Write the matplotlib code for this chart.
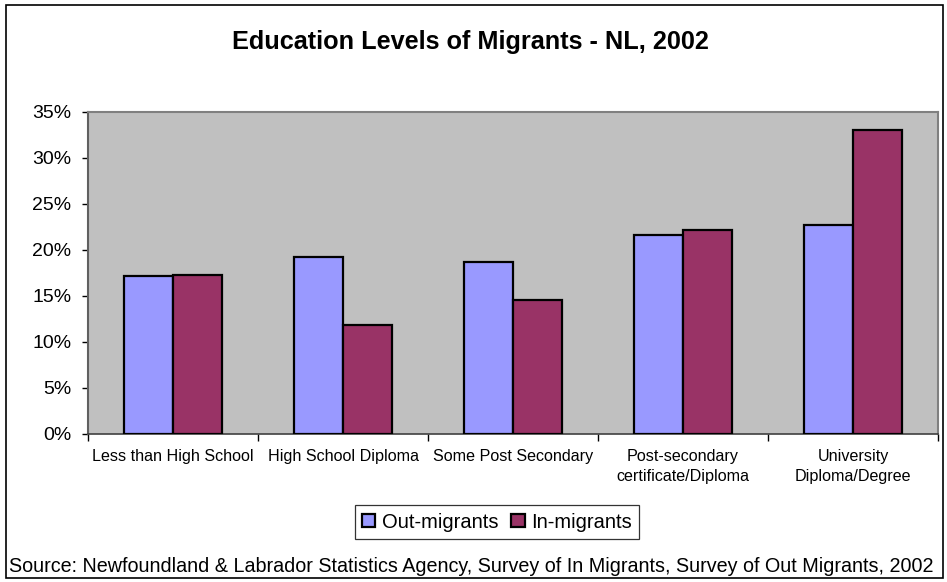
import numpy as np
import matplotlib
matplotlib.use("Agg")
import matplotlib.pyplot as plt
from matplotlib.patches import Rectangle
from matplotlib.ticker import PercentFormatter

plt.rcParams['font.family'] = ['Liberation Sans', 'DejaVu Sans']

categories = ["Less than High School", "High School Diploma", "Some Post Secondary",
              "Post-secondary\ncertificate/Diploma", "University\nDiploma/Degree"]
out_migrants = [17.2, 19.2, 18.7, 21.6, 22.7]
in_migrants = [17.3, 11.9, 14.6, 22.2, 33.0]
series_names = ["Out-migrants", "In-migrants"]
colors = ["#9999FF", "#993366"]

fig = plt.figure(figsize=(9.47, 5.82), dpi=100)
ax = fig.add_axes([88 / 947, 1 - 434 / 582, 850 / 947, 322 / 582])
ax.set_facecolor("#C0C0C0")

x = np.arange(len(categories))
w = 0.29
ax.bar(x - w / 2, out_migrants, w, color=colors[0], edgecolor="black", linewidth=1.6,
       label=series_names[0], zorder=3)
ax.bar(x + w / 2, in_migrants, w, color=colors[1], edgecolor="black", linewidth=1.6,
       label=series_names[1], zorder=3)

ax.set_xlim(-0.5, len(categories) - 0.5)
ax.set_ylim(0, 35)
ax.set_yticks(np.arange(0, 36, 5))
ax.yaxis.set_major_formatter(PercentFormatter(decimals=0))
ax.tick_params(axis='y', direction='out', length=4.5, width=1, colors='black',
               labelsize=14, pad=7.5)

# category boundaries get tick marks, labels sit in the middle
ax.set_xticks(np.arange(-0.5, len(categories), 1.0))
ax.set_xticklabels([])
ax.set_xticks(x, minor=True)
ax.set_xticklabels(categories, minor=True, fontsize=11.6, linespacing=1.4)
ax.tick_params(axis='x', which='major', direction='out', length=5, width=1)
ax.tick_params(axis='x', which='minor', length=0, pad=11)

for s in ['top', 'right']:
    ax.spines[s].set_color('#808080')
    ax.spines[s].set_linewidth(1.5)
ax.spines['left'].set_color('#606060')
ax.spines['bottom'].set_color('#404040')
ax.spines['left'].set_linewidth(1.5)
ax.spines['bottom'].set_linewidth(1.2)

fig.text(470 / 947, 1 - 42 / 582, "Education Levels of Migrants - NL, 2002",
         ha='center', va='center', fontsize=18.2, fontweight='bold')

leg = fig.legend(loc='center', bbox_to_anchor=(497 / 947, 1 - 522 / 582), ncol=2,
                 fontsize=14.5, frameon=True, fancybox=False, edgecolor='black',
                 handlelength=0.65, handleheight=0.65, handletextpad=0.35,
                 columnspacing=0.65, borderpad=0.35, borderaxespad=0)
leg.get_frame().set_linewidth(0.9)
for h in leg.legend_handles:
    h.set_linewidth(1.6)

fig.text(471 / 947, 1 - 567 / 582,
         "Source: Newfoundland & Labrador Statistics Agency, Survey of In Migrants, Survey of Out Migrants, 2002",
         ha='center', va='center', fontsize=14.2)

fig.patches.append(Rectangle((6 / 947, 4 / 582), 937 / 947, 573 / 582, transform=fig.transFigure,
                             fill=False, edgecolor='black', linewidth=1.2))

fig.savefig("out.png", dpi=100)
